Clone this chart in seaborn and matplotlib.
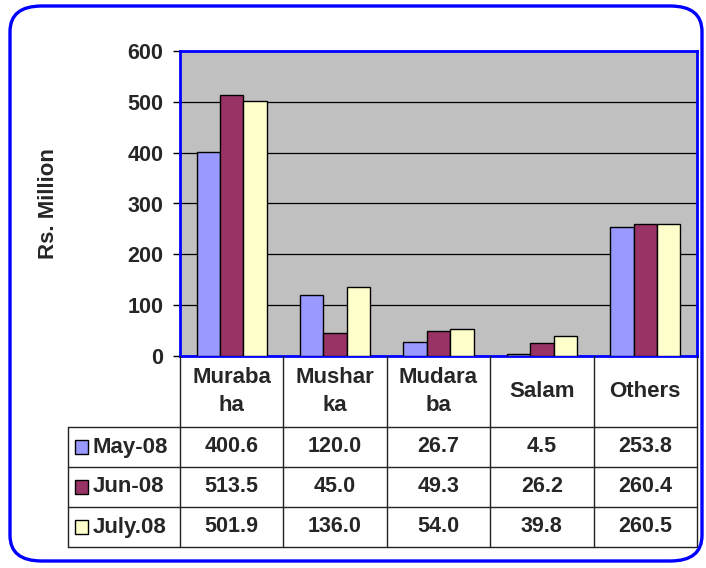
import numpy as np
import pandas as pd
import matplotlib
matplotlib.use("Agg")
import matplotlib.pyplot as plt
from matplotlib.patches import FancyBboxPatch, Rectangle
import seaborn as sns

categories = ["Murabaha", "Musharka", "Mudaraba", "Salam", "Others"]
header_labels = ["Muraba\nha", "Mushar\nka", "Mudara\nba", "Salam", "Others"]
months = ["May-08", "Jun-08", "July.08"]
may_08 = [400.6, 120.0, 26.7, 4.5, 253.8]
jun_08 = [513.5, 45.0, 49.3, 26.2, 260.4]
july_08 = [501.9, 136.0, 54.0, 39.8, 260.5]
colors = ["#9999FF", "#993366", "#FFFFCC"]
yticks = [0, 100, 200, 300, 400, 500, 600]

sns.set_style("white")
plt.rcParams["font.family"] = ["Liberation Sans", "DejaVu Sans"]
plt.rcParams["font.weight"] = "bold"

series = [may_08, jun_08, july_08]
df = pd.DataFrame({
    "category": categories * 3,
    "month": np.repeat(months, len(categories)),
    "value": may_08 + jun_08 + july_08,
})

W, H = 706, 568
fig = plt.figure(figsize=(W / 100, H / 100), dpi=100)

# outer rounded frame
frame = FancyBboxPatch((10 / W, 7 / H), 692 / W, 555 / H,
                       boxstyle="round,pad=0,rounding_size=0.045",
                       transform=fig.transFigure, fill=False,
                       edgecolor="#0000FF", linewidth=2.4, clip_on=False)
fig.patches.append(frame)

ax = fig.add_axes([180 / W, (H - 356) / H, (697 - 180) / W, (356 - 51) / H])
sns.barplot(data=df, x="category", y="value", hue="month", order=categories,
            hue_order=months, palette=colors, width=0.68, edgecolor="black",
            linewidth=1, saturation=1, legend=False, ax=ax, zorder=3)
ax.set_facecolor("#C0C0C0")
ax.set_ylim(0, 600)
ax.set_xlim(-0.5, len(categories) - 0.5)
ax.set_yticks(yticks)
ax.set_yticklabels([str(t) for t in yticks], fontsize=15.5, fontweight="bold")
ax.set_xticks([])
ax.set_xlabel("")
ax.set_ylabel("")
for t in yticks[1:-1]:
    ax.axhline(t, color="black", linewidth=0.9, zorder=1)
for s in ax.spines.values():
    s.set_edgecolor("#0000FF")
    s.set_linewidth(2)
ax.tick_params(axis="y", left=True, length=5, width=1, color="black", pad=7)

fig.text(48 / W, (H - 204) / H, "Rs. Million", rotation=90, ha="center",
         va="center", fontsize=16, fontweight="bold")

# data table below the plot
tax = fig.add_axes([68 / W, (H - 547) / H, (697 - 68) / W, (547 - 356) / H])
lab_w = 112 / 103.5
head_h = 71 / 40
x0 = -0.5 - lab_w
tax.set_xlim(x0, len(categories) - 0.5)
tax.set_ylim(0, 3 + head_h)
tax.axis("off")
lc = "#222222"
for y in [0, 1, 2, 3]:
    tax.plot([x0, len(categories) - 0.5], [y, y], color=lc, lw=1, clip_on=False)
tax.plot([x0, x0], [0, 3], color=lc, lw=1, clip_on=False)
for i in range(len(categories) + 1):
    tax.plot([i - 0.5, i - 0.5], [0, 3 + head_h], color=lc, lw=1, clip_on=False)

for i, lab in enumerate(header_labels):
    tax.text(i, 3 + head_h / 2, lab, ha="center", va="center", fontsize=16,
             fontweight="bold", linespacing=1.4)

for r, (name, vals, c) in enumerate(zip(months, series, colors)):
    yc = 2.5 - r
    sq = 13 / 103.5
    tax.add_patch(Rectangle((x0 + 7 / 103.5, yc - 0.17), sq, 0.34,
                            facecolor=c, edgecolor="black", lw=1, clip_on=False))
    tax.text(x0 + 25 / 103.5, yc, name, ha="left", va="center", fontsize=16,
             fontweight="bold")
    for i, v in enumerate(vals):
        tax.text(i, yc, f"{v:.1f}", ha="center", va="center", fontsize=15.5,
                 fontweight="bold")

fig.savefig("out.png", dpi=100)
